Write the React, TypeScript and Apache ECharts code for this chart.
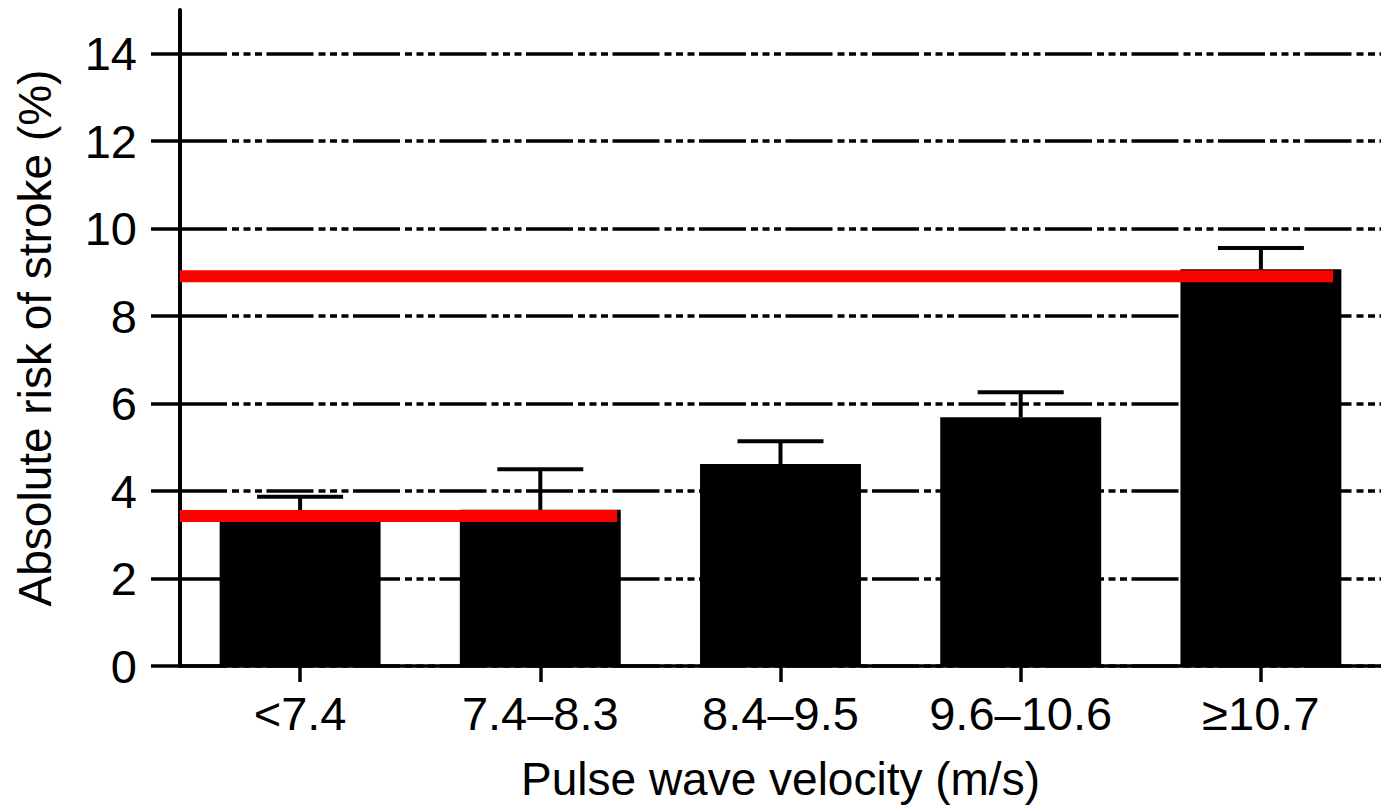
import React, { useEffect, useRef } from "react";
import * as echarts from "echarts";

const categories = ["<7.4", "7.4–8.3", "8.4–9.5", "9.6–10.6", "≥10.7"];
const riskValues = [3.55, 3.57, 4.62, 5.69, 9.07];
const upperErrors = [3.87, 4.5, 5.14, 6.26, 9.56];
const yTickValues = [0, 2, 4, 6, 8, 10, 12, 14];
// reference levels (red lines): level and span end in category-position units
const refLevels = [3.43, 8.91];
const refSpanEnds = [1.82, 4.8];

const FONT = "Liberation Sans, Arial, Helvetica, sans-serif";

export default function App() {
  const ref = useRef<HTMLDivElement>(null);
  useEffect(() => {
    if (!ref.current) return;
    const chart = echarts.init(ref.current, undefined, { renderer: "svg" });
    const dash = [47, 5, 7, 4.5, 7, 4.5, 7, 4.5];
    chart.setOption({
      animation: false,
      backgroundColor: "#ffffff",
      grid: { left: 180, top: 10, width: 1208, height: 656, containLabel: false },
      xAxis: [
        {
          type: "category",
          data: categories,
          boundaryGap: true,
          name: "Pulse wave velocity (m/s)",
          nameLocation: "middle",
          nameGap: 90,
          nameTextStyle: { fontFamily: FONT, fontSize: 46, color: "#000" },
          axisLine: { show: true, lineStyle: { color: "#000", width: 3.5 } },
          axisTick: { show: true, alignWithLabel: true, length: 16, lineStyle: { color: "#000", width: 3.5 } },
          axisLabel: { fontFamily: FONT, fontSize: 47, color: "#000", margin: 24, interval: 0 },
          splitLine: { show: false },
        },
        { type: "value", min: 0, max: 5, show: false },
      ],
      yAxis: {
        type: "value",
        min: 0,
        max: 15,
        interval: 2,
        name: "Absolute risk of stroke (%)",
        nameLocation: "middle",
        nameGap: 122,
        nameTextStyle: { fontFamily: FONT, fontSize: 46, color: "#000" },
        axisLine: { show: true, lineStyle: { color: "#000", width: 4 } },
        axisTick: {
          show: true,
          length: 29,
          customValues: yTickValues,
          lineStyle: { color: "#000", width: 3.5 },
        },
        axisLabel: {
          fontFamily: FONT,
          fontSize: 47,
          color: "#000",
          margin: 43,
          customValues: yTickValues,
          showMaxLabel: true,
        },
        splitLine: {
          show: true,
          lineStyle: { color: "#000", width: 3.5, type: dash },
        },
      },
      series: [
        {
          type: "bar",
          data: riskValues,
          barWidth: "67%",
          itemStyle: { color: "#000" },
          z: 2,
          silent: true,
        },
        {
          type: "custom",
          data: riskValues.map((v, i) => [i, v, upperErrors[i]]),
          encode: { x: 0, y: [1, 2] },
          z: 3,
          silent: true,
          renderItem: (params: any, api: any) => {
            const idx = api.value(0);
            const top = api.coord([idx, api.value(1)]);
            const cap = api.coord([idx, api.value(2)]);
            const half = 43;
            return {
              type: "group",
              children: [
                {
                  type: "line",
                  shape: { x1: top[0], y1: top[1], x2: cap[0], y2: cap[1] },
                  style: { stroke: "#000", lineWidth: 4 },
                },
                {
                  type: "line",
                  shape: { x1: cap[0] - half, y1: cap[1], x2: cap[0] + half, y2: cap[1] },
                  style: { stroke: "#000", lineWidth: 4 },
                },
              ],
            };
          },
        },
        ...refLevels.map((lvl, i) => ({
          type: "line",
          xAxisIndex: 1,
          yAxisIndex: 0,
          data: [
            [0, lvl],
            [refSpanEnds[i], lvl],
          ],
          symbol: "none",
          silent: true,
          z: 5,
          lineStyle: { color: "#ff0000", width: 12, cap: "butt" },
        })),
      ],
    });
    return () => chart.dispose();
  }, []);
  return (
    <div
      ref={ref}
      style={{ position: "fixed", left: 0, top: 0, width: 1381, height: 809, background: "#fff" }}
    />
  );
}
